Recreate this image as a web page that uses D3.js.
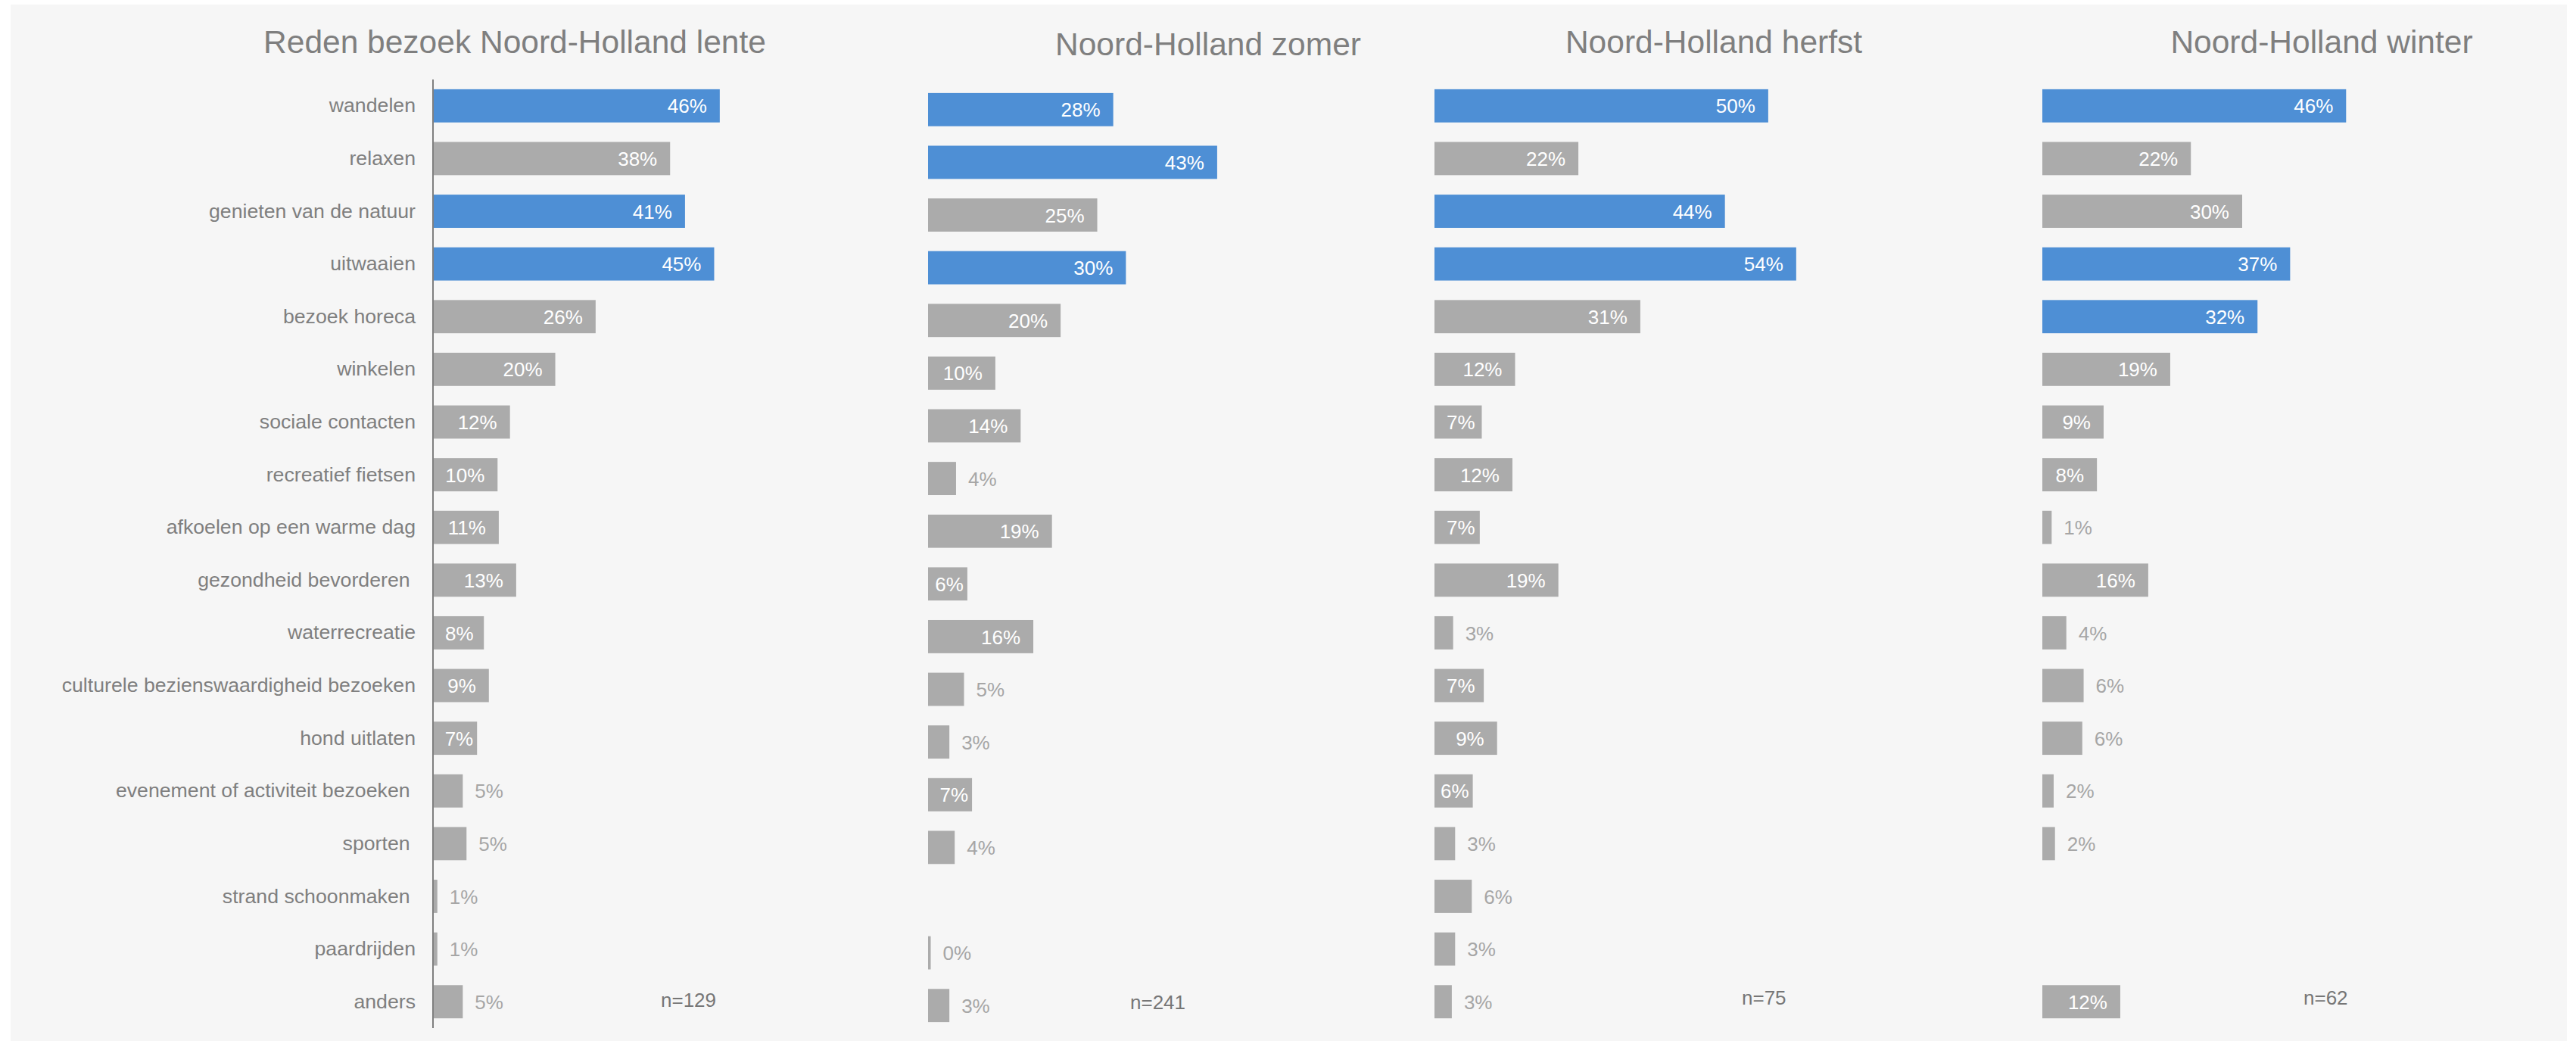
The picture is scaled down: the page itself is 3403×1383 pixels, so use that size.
<!DOCTYPE html>
<html>
<head>
<meta charset="utf-8">
<title>Reden bezoek Noord-Holland per seizoen</title>
<script src="https://cdn.jsdelivr.net/npm/d3@7/dist/d3.min.js"></script>
<style>
    body { margin: 0; background: #fff; }
    svg text { font-family: "Liberation Sans", Arial, sans-serif; white-space: pre; }
</style>
</head>
<body>
<svg width="3403" height="1383"></svg>
<script>
// categories (some labels carry a trailing space in the original)
const categories = [
    'wandelen', 'relaxen', 'genieten van de natuur', 'uitwaaien', 'bezoek horeca',
    'winkelen', 'sociale contacten', 'recreatief fietsen', 'afkoelen op een warme dag',
    'gezondheid bevorderen ', 'waterrecreatie', 'culturele bezienswaardigheid bezoeken',
    'hond uitlaten', 'evenement of activiteit bezoeken ', 'sporten ', 'strand schoonmaken ',
    'paardrijden', 'anders'
];

// percentages per season (null = no answer in that season)
const lente  = [46.2, 38.2, 40.6, 45.3, 26.2, 19.7, 12.4, 10.4, 10.6, 13.4, 8.2, 9.0, 7.1, 4.8, 5.4, 0.7, 0.7, 4.8];
const zomer  = [27.8, 43.4, 25.4, 29.7, 19.9, 10.1, 13.9, 4.2, 18.6, 5.9, 15.8, 5.4, 3.2, 6.6, 4.0, null, 0.4, 3.2];
const herfst = [50.1, 21.6, 43.6, 54.3, 30.9, 12.1, 7.1, 11.7, 6.8, 18.6, 2.8, 7.4, 9.4, 5.75, 3.1, 5.6, 3.1, 2.6];
const winter = [45.6, 22.3, 30.0, 37.2, 32.3, 19.2, 9.2, 8.2, 1.4, 15.9, 3.6, 6.2, 6.0, 1.7, 1.9, null, null, 11.7];

const titles = ['Reden bezoek Noord-Holland lente', 'Noord-Holland zomer', 'Noord-Holland herfst', 'Noord-Holland winter'];
const sampleSizes = ['n=129', 'n=241', 'n=75', 'n=62'];

const seasons = [lente, zomer, herfst, winter];

// layout of the four panels
const panels = [
    {x0: 572,  pct: 8.2, dy: 0, titleX: 680,  titleY: 70, nX: 873,  nY: 1330, insideMin: 5.7},
    {x0: 1226, pct: 8.8, dy: 5, titleX: 1596, titleY: 73, nX: 1493, nY: 1333, insideMin: 5.7},
    {x0: 1895, pct: 8.8, dy: 0, titleX: 2264, titleY: 70, nX: 2301, nY: 1327, insideMin: 5.7},
    {x0: 2698, pct: 8.8, dy: 0, titleX: 3067, titleY: 70, nX: 3043, nY: 1327, insideMin: 7}
];

const blue = '#4e8fd5';
const grey = '#ababab';
const textGrey = '#7f7f7f';
const fmt = v => Math.round(v) + '%';

const svg = d3.select('svg');

svg.append('rect')
    .attr('x', 14).attr('y', 6)
    .attr('width', 3377).attr('height', 1369)
    .attr('fill', '#f6f6f6');

seasons.forEach((values, i) => {
    const p = panels[i];
    const g = svg.append('g');

    const x = d3.scaleLinear().domain([0, 100]).range([p.x0, p.x0 + p.pct * 100]);
    const y = d3.scaleBand()
        .domain(categories)
        .range([105 + p.dy, 1358 + p.dy])
        .paddingInner(0.37)
        .paddingOuter(0.185);

    // top three reasons are highlighted in blue
    const top3 = values.filter(v => v != null).sort((a, b) => b - a).slice(0, 3);
    const rows = categories.map((c, k) => ({cat: c, v: values[k]})).filter(d => d.v != null);

    g.selectAll('.bar')
        .data(rows)
        .enter().append('rect')
        .attr('class', 'bar')
        .attr('x', x(0))
        .attr('y', d => y(d.cat))
        .attr('width', d => x(d.v) - x(0))
        .attr('height', y.bandwidth())
        .attr('fill', d => top3.includes(d.v) ? blue : grey);

    g.selectAll('.val')
        .data(rows)
        .enter().append('text')
        .attr('class', 'val')
        .attr('y', d => y(d.cat) + y.bandwidth() / 2)
        .attr('dy', '0.37em')
        .style('font-size', '26px')
        .text(d => fmt(d.v))
        .each(function (d) {
            const t = d3.select(this);
            const barEnd = x(d.v);
            if (d.v >= p.insideMin) {
                const w = this.getComputedTextLength();
                const pad = Math.max(5, Math.min(17, (barEnd - x(0)) - w - 16));
                t.attr('x', barEnd - pad).attr('text-anchor', 'end').attr('fill', '#fff');
            } else {
                t.attr('x', barEnd + 16).attr('text-anchor', 'start').attr('fill', '#a6a6a6');
            }
        });

    if (i === 0) {
        g.append('line')
            .attr('x1', x(0)).attr('x2', x(0))
            .attr('y1', y.range()[0]).attr('y2', y.range()[1])
            .attr('stroke', textGrey)
            .attr('stroke-width', 2);

        g.selectAll('.cat')
            .data(categories)
            .enter().append('text')
            .attr('class', 'cat')
            .attr('x', x(0) - 23)
            .attr('y', d => y(d) + y.bandwidth() / 2)
            .attr('dy', '0.32em')
            .attr('text-anchor', 'end')
            .attr('fill', textGrey)
            .style('font-size', '26.7px')
            .text(d => d);
    }

    g.append('text')
        .attr('x', p.titleX)
        .attr('y', p.titleY)
        .attr('text-anchor', 'middle')
        .attr('fill', textGrey)
        .style('font-size', '42.5px')
        .text(titles[i]);

    g.append('text')
        .attr('x', p.nX)
        .attr('y', p.nY)
        .attr('fill', '#767676')
        .style('font-size', '26px')
        .text(sampleSizes[i]);
});
</script>
</body>
</html>
